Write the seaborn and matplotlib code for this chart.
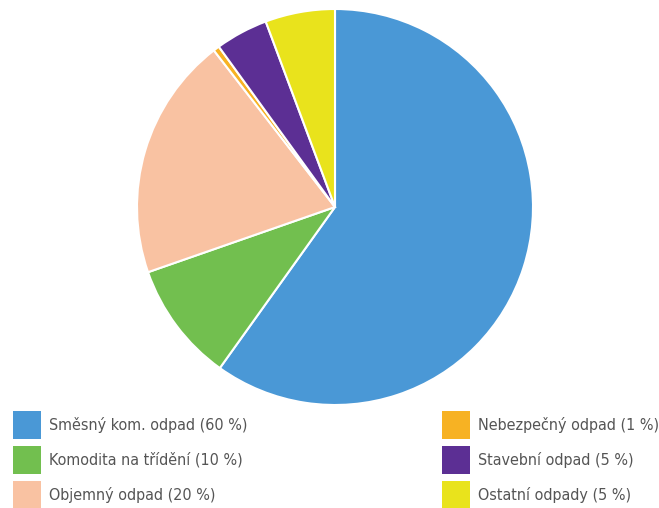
import matplotlib.pyplot as plt
import seaborn as sns
from matplotlib.patches import Patch

sns.set_theme(style="white")
plt.rcParams["font.family"] = ["DejaVu Sans"]
plt.rcParams["font.stretch"] = "condensed"

# data
labels = ["Směsný kom. odpad (60 %)", "Komodita na třídění (10 %)", "Objemný odpad (20 %)",
          "Nebezpečný odpad (1 %)", "Stavební odpad (5 %)", "Ostatní odpady (5 %)"]
values = [60, 9.8, 19.9, 0.5, 4.3, 5.7]
colors = ["#4a98d6", "#72bf4f", "#f9c2a2", "#f7b223", "#5c2f94", "#e9e31c"]

fig = plt.figure(figsize=(6.59, 5.08), dpi=100)
W, H = 659, 508
cx, cy, r = 335, 207, 198
ax = fig.add_axes([(cx - r) / W, 1 - (cy + r) / H, 2 * r / W, 2 * r / H])

ax.pie(values, colors=colors, startangle=90, counterclock=False,
       wedgeprops={"edgecolor": "white", "linewidth": 1.5})
ax.set_xlim(-1, 1)
ax.set_ylim(-1, 1)
ax.set_aspect("equal")
ax.axis("off")

handles = [Patch(facecolor=c, edgecolor="none") for c in colors]

leg_kw = dict(loc="upper left", frameon=False, fontsize=11.5, borderpad=0,
              borderaxespad=0, handlelength=1.75, handleheight=2.32,
              labelspacing=0.44, handletextpad=0.5, labelcolor="#555555")
fig.legend(handles[:3], labels[:3], bbox_to_anchor=(13 / W, 1 - 411 / H), **leg_kw)
fig.legend(handles[3:], labels[3:], bbox_to_anchor=(442 / W, 1 - 411 / H), **leg_kw)

fig.savefig("out.png", dpi=100)
